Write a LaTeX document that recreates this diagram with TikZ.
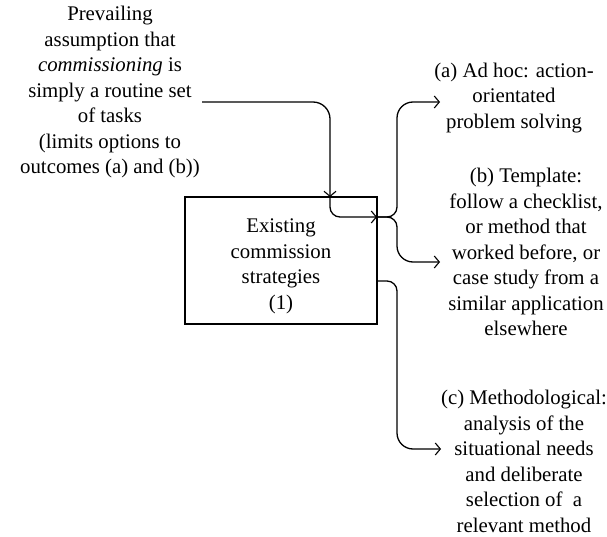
\documentclass[tikz,border=0pt]{standalone}
\usepackage{fontspec}
\setmainfont{Liberation Serif}
\usetikzlibrary{arrows.meta}
\begin{document}
\begin{tikzpicture}[x=1pt,y=-1pt,
  txt/.style={align=center,inner sep=0pt,font=\fontsize{20.8}{25.5}\selectfont},
  boxnode/.style={draw,line width=1.3pt,minimum width=192pt,minimum height=127pt,inner sep=0pt},
  conn/.style={line width=1.3pt},
  tip/.style={-{Straight Barb[length=5pt,width=12pt,line width=1.1pt]}}]
\useasboundingbox (0,0) rectangle (607,537);
\node[txt] (pre) at (110,92) {Prevailing\\assumption that\\\textit{commissioning} is\\simply a routine set\\of tasks\\(limits options to\\outcomes (a) and (b))};
\node[boxnode] (box) at (281,260.5) {};
\node[txt] (boxtext) at (281,266.5) {Existing\\commission\\strategies\\(1)};
\node[txt] (a) at (514,98) {(a) Ad hoc: action-\\orientated\\problem solving};
\node[txt] (b) at (526,252) {(b) Template:\\follow a checklist,\\or method that\\worked before, or\\case study from a\\similar application\\elsewhere};
\node[txt] (c) at (524,461.5) {(c) Methodological:\\analysis of the\\situational needs\\and deliberate\\selection of\ \ a\\relevant method};
\coordinate (s) at (202,102);
\coordinate (bt) at (330,197);
\coordinate (br) at (377,217);
\coordinate (bc) at (377,281);
\coordinate (j1) at (397,217);
\coordinate (j2) at (397,281);
\coordinate (ea) at (440,102);
\coordinate (eb) at (440,262);
\coordinate (ec) at (441,449);
\draw[conn,tip,rounded corners=17pt] (s) -| (bt);
\draw[conn,tip,rounded corners=10pt] (bt) |- (br);
\draw[conn,tip,rounded corners=10pt] (br) -- (j1) [rounded corners=16pt] |- (ea);
\draw[conn,tip,rounded corners=10pt] (br) -- (j1) [rounded corners=16pt] |- (eb);
\draw[conn,tip,rounded corners=10pt] (bc) -- (j2) [rounded corners=16pt] |- (ec);
\end{tikzpicture}
\end{document}
